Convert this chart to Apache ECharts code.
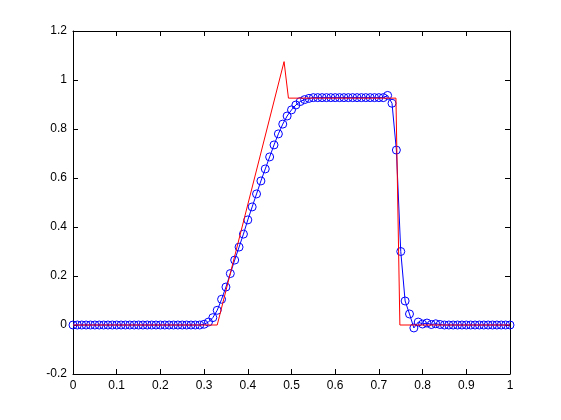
<!DOCTYPE html>
<html>
<head>
<meta charset="utf-8">
<script src="https://cdn.jsdelivr.net/npm/echarts@6/dist/echarts.min.js"></script>
<style>
html,body{margin:0;padding:0;background:#fff;}
#c{width:561px;height:420px;}
</style>
</head>
<body>
<div id="c"></div>
<script>
// Sample positions of the numerical solution
var xGrid = [0.00,0.01,0.02,0.03,0.04,0.05,0.06,0.07,0.08,0.09,
             0.10,0.11,0.12,0.13,0.14,0.15,0.16,0.17,0.18,0.19,
             0.20,0.21,0.22,0.23,0.24,0.25,0.26,0.27,0.28,0.29,
             0.30,0.31,0.32,0.33,0.34,0.35,0.36,0.37,0.38,0.39,
             0.40,0.41,0.42,0.43,0.44,0.45,0.46,0.47,0.48,0.49,
             0.50,0.51,0.52,0.53,0.54,0.55,0.56,0.57,0.58,0.59,
             0.60,0.61,0.62,0.63,0.64,0.65,0.66,0.67,0.68,0.69,
             0.70,0.71,0.72,0.73,0.74,0.75,0.76,0.77,0.78,0.79,
             0.80,0.81,0.82,0.83,0.84,0.85,0.86,0.87,0.88,0.89,
             0.90,0.91,0.92,0.93,0.94,0.95,0.96,0.97,0.98,0.99,1.00];
// Numerical solution (blue circles)
var blueY = [0,0,0,0,0,0,0,0,0,0,
             0,0,0,0,0,0,0,0,0,0,
             0,0,0,0,0,0,0,0,0,0,
             0.003,0.012,0.03,0.06,0.105,0.155,0.21,0.265,0.318,0.371,
             0.429,0.482,0.535,0.588,0.637,0.686,0.735,0.78,0.82,0.853,
             0.878,0.898,0.912,0.92,0.925,0.928,0.928,0.928,0.928,0.928,
             0.928,0.928,0.928,0.928,0.928,0.928,0.928,0.928,0.928,0.928,
             0.928,0.928,0.937,0.905,0.714,0.30,0.098,0.045,-0.012,0.012,
             0.004,0.008,0.002,0.005,0.002,0,0,0,0,0,
             0,0,0,0,0,0,0,0,0,0,0];
// Exact solution (red line) breakpoints
var redX = [0, 0.33, 0.483, 0.493, 0.739, 0.748, 1];
var redY = [0, 0, 1.075, 0.926, 0.926, 0, 0];
// Tick labels
var xTickLabels = ['0','0.1','0.2','0.3','0.4','0.5','0.6','0.7','0.8','0.9','1'];
var yTickLabels = ['-0.2','0','0.2','0.4','0.6','0.8','1','1.2'];

var blueData = xGrid.map(function(x,i){return [x, blueY[i]];});
var redData = redX.map(function(x,i){return [x, redY[i]];});

var labelFont = {color:'#000', fontFamily:'Liberation Sans, Arial, sans-serif', fontSize:12};
function xFmt(v){ var i = Math.round(v*10); return xTickLabels[i] !== undefined ? xTickLabels[i] : ''; }
function yFmt(v){ var i = Math.round((v+0.2)*5); return yTickLabels[i] !== undefined ? yTickLabels[i] : ''; }

var chart = echarts.init(document.getElementById('c'), null, {renderer:'canvas'});
var lineStyleAxis = {color:'#000', width:1};
chart.setOption({
  animation:false,
  backgroundColor:'#fff',
  grid:{left:73, right:51, top:31, bottom:46, show:false},
  xAxis:[
    {type:'value', min:0, max:1, interval:0.1, position:'bottom',
     axisLine:{show:true, onZero:false, lineStyle:lineStyleAxis},
     axisTick:{show:true, inside:true, length:5, lineStyle:lineStyleAxis},
     axisLabel:Object.assign({formatter:xFmt, margin:6}, labelFont),
     splitLine:{show:false}},
    {type:'value', min:0, max:1, interval:0.1, position:'top',
     axisLine:{show:true, onZero:false, lineStyle:lineStyleAxis},
     axisTick:{show:true, inside:true, length:5, lineStyle:lineStyleAxis},
     axisLabel:{show:false}, splitLine:{show:false}}
  ],
  yAxis:[
    {type:'value', min:-0.2, max:1.2, interval:0.2, position:'left',
     axisLine:{show:true, onZero:false, lineStyle:lineStyleAxis},
     axisTick:{show:true, inside:true, length:5, lineStyle:lineStyleAxis},
     axisLabel:Object.assign({formatter:yFmt, margin:6}, labelFont),
     splitLine:{show:false}},
    {type:'value', min:-0.2, max:1.2, interval:0.2, position:'right',
     axisLine:{show:true, onZero:false, lineStyle:lineStyleAxis},
     axisTick:{show:true, inside:true, length:5, lineStyle:lineStyleAxis},
     axisLabel:{show:false}, splitLine:{show:false}}
  ],
  series:[
    {type:'line', data:blueData, xAxisIndex:0, yAxisIndex:0,
     symbol:'circle', symbolSize:8, showAllSymbol:true,
     lineStyle:{color:'#0000ff', width:1},
     itemStyle:{color:'rgba(0,0,0,0)', borderColor:'#0000ff', borderWidth:1},
     z:2},
    {type:'line', data:redData, xAxisIndex:0, yAxisIndex:0,
     symbol:'none', lineStyle:{color:'#ff0000', width:1}, z:3}
  ]
});
</script>
</body>
</html>
